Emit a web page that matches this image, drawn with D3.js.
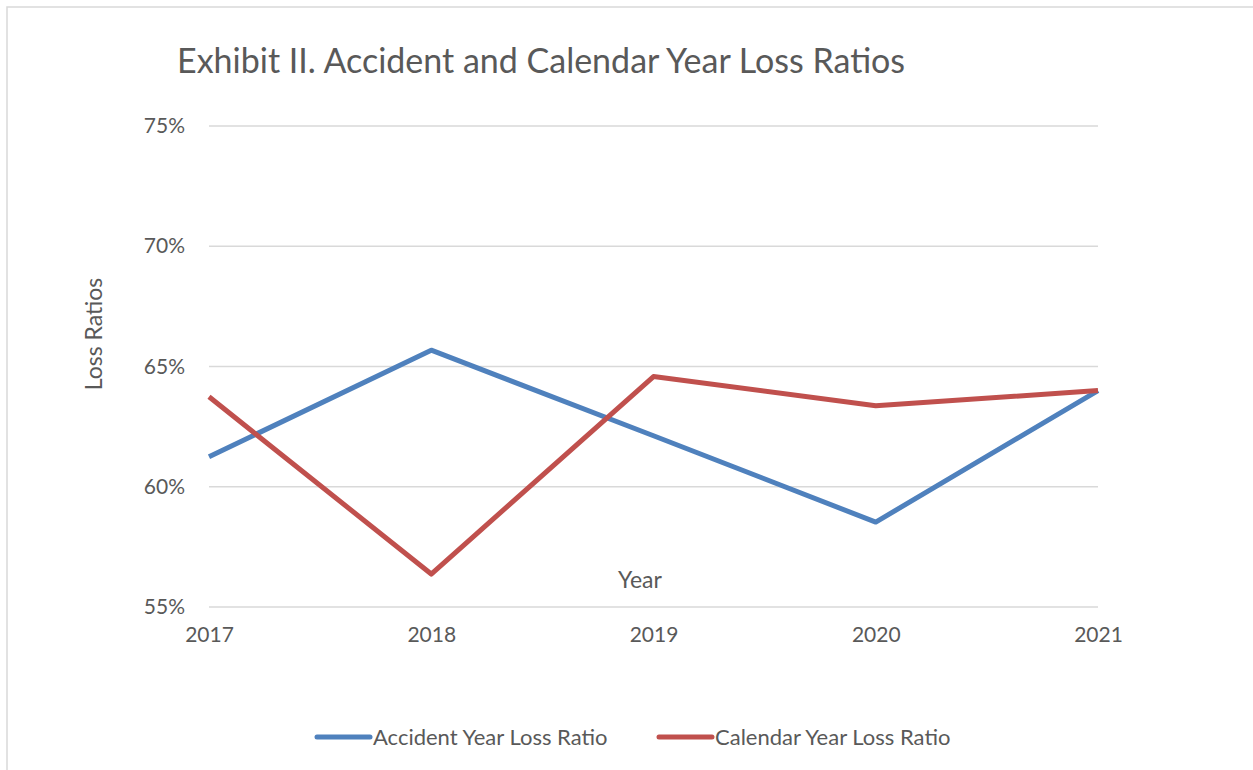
<!DOCTYPE html>
<html>
<head>
<meta charset="utf-8">
<script src="https://cdn.jsdelivr.net/npm/d3@7"></script>
<style>
  body { margin: 0; background: #fff; }
  svg text { font-family: Lato, "Open Sans", sans-serif; fill: #595959; }
</style>
</head>
<body>
<div class="container"></div>
<script>
// data
const years = [2017, 2018, 2019, 2020, 2021];
const accidentYear = [0.6125, 0.6568, 0.6212, 0.5853, 0.6400];
const calendarYear = [0.6374, 0.5637, 0.6458, 0.6337, 0.6400];
const yTicks = [0.55, 0.60, 0.65, 0.70, 0.75];

const series = [
    { name: 'Accident Year Loss Ratio', values: accidentYear, color: '#4F81BD' },
    { name: 'Calendar Year Loss Ratio', values: calendarYear, color: '#C0504D' }
];

const W = 1253, H = 770;

const canvas = d3.select('.container')
    .append('svg')
    .attr('width', W)
    .attr('height', H);

// outer frame
canvas.append('rect')
    .attr('x', 7).attr('y', 7)
    .attr('width', W + 20).attr('height', H + 20)
    .attr('fill', 'none')
    .attr('stroke', '#d9d9d9')
    .attr('stroke-width', 1.5);

// title
canvas.append('text')
    .attr('x', 177).attr('y', 73)
    .attr('font-size', 34)
    .text('Exhibit II. Accident and Calendar Year Loss Ratios');

// scales
const xScale = d3.scalePoint()
    .domain(years)
    .range([209, 1098]);

const yScale = d3.scaleLinear()
    .domain([0.55, 0.75])
    .range([607, 126]);

// gridlines
canvas.append('g')
    .selectAll('line')
    .data(yTicks)
    .enter()
    .append('line')
    .attr('x1', 209).attr('x2', 1098)
    .attr('y1', d => yScale(d)).attr('y2', d => yScale(d))
    .attr('stroke', '#d9d9d9')
    .attr('stroke-width', 1.5);

// y axis labels
const yAxis = d3.axisLeft(yScale)
    .tickValues(yTicks)
    .tickFormat(d3.format('.0%'))
    .tickSize(0)
    .tickPadding(24);

canvas.append('g')
    .attr('transform', 'translate(209,0)')
    .call(yAxis)
    .call(g => g.select('.domain').remove())
    .selectAll('text')
    .attr('font-size', 21)
    .attr('font-family', 'Lato, sans-serif')
    .attr('fill', '#595959');

// x axis labels
const xAxis = d3.axisBottom(xScale)
    .tickSize(0)
    .tickPadding(20);

canvas.append('g')
    .attr('transform', 'translate(0,607)')
    .call(xAxis)
    .call(g => g.select('.domain').remove())
    .selectAll('text')
    .attr('font-size', 21)
    .attr('font-family', 'Lato, sans-serif')
    .attr('fill', '#595959');

// axis titles
canvas.append('text')
    .attr('x', 640).attr('y', 588)
    .attr('text-anchor', 'middle')
    .attr('font-size', 23)
    .text('Year');

canvas.append('text')
    .attr('transform', 'translate(102,334) rotate(-90)')
    .attr('text-anchor', 'middle')
    .attr('font-size', 23)
    .text('Loss Ratios');

// lines
const line = d3.line()
    .x((d, i) => xScale(years[i]))
    .y(d => yScale(d));

canvas.append('g')
    .selectAll('path')
    .data(series)
    .enter()
    .append('path')
    .attr('d', d => line(d.values))
    .attr('fill', 'none')
    .attr('stroke', d => d.color)
    .attr('stroke-width', 5)
    .attr('stroke-linejoin', 'round');

// legend
const legendX = [307, 649];
const legend = canvas.append('g')
    .selectAll('g')
    .data(series)
    .enter()
    .append('g')
    .attr('transform', (d, i) => `translate(${legendX[i]},737)`);

legend.append('line')
    .attr('x1', 10).attr('x2', 63)
    .attr('stroke', d => d.color)
    .attr('stroke-width', 5)
    .attr('stroke-linecap', 'round');

legend.append('text')
    .attr('x', 66).attr('y', 8)
    .attr('font-size', 22)
    .text(d => d.name);
</script>
</body>
</html>
